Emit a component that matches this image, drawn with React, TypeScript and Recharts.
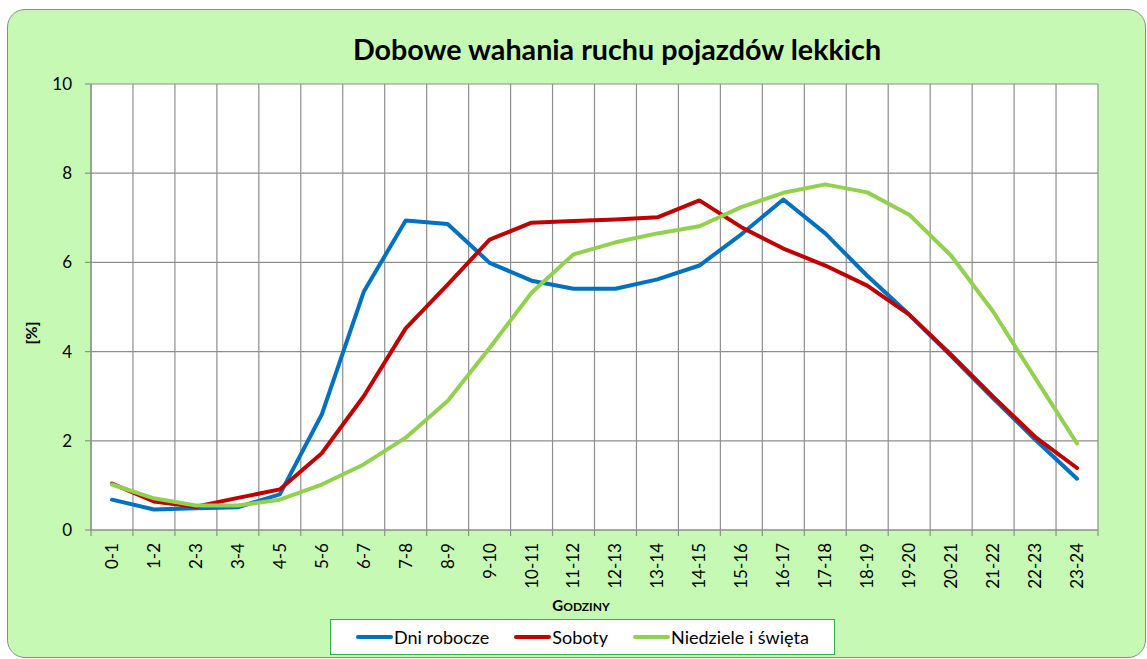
import React from 'react'
import { ComposedChart, Line, XAxis, YAxis, CartesianGrid, Legend } from 'recharts'

const HOURS = [
  '0-1', '1-2', '2-3', '3-4', '4-5', '5-6', '6-7', '7-8', '8-9', '9-10', '10-11', '11-12',
  '12-13', '13-14', '14-15', '15-16', '16-17', '17-18', '18-19', '19-20', '20-21', '21-22', '22-23', '23-24',
]
const WORKDAYS = [0.68, 0.46, 0.49, 0.51, 0.80, 2.59, 5.34, 6.94, 6.86, 5.99, 5.59, 5.41, 5.41, 5.62, 5.93, 6.63, 7.41, 6.65, 5.70, 4.83, 3.90, 2.95, 2.03, 1.15]
const SATURDAYS = [1.04, 0.64, 0.52, 0.72, 0.91, 1.72, 3.00, 4.52, 5.50, 6.51, 6.89, 6.93, 6.96, 7.01, 7.39, 6.79, 6.31, 5.93, 5.48, 4.83, 3.93, 2.99, 2.09, 1.39]
const HOLIDAYS = [1.02, 0.71, 0.55, 0.55, 0.68, 1.02, 1.47, 2.07, 2.89, 4.08, 5.32, 6.18, 6.45, 6.65, 6.81, 7.24, 7.56, 7.75, 7.57, 7.07, 6.15, 4.90, 3.41, 1.94]
const Y_TICKS = [0, 2, 4, 6, 8, 10]

const SERIES = [
  { key: 'work', label: 'Dni robocze', color: '#0070c0' },
  { key: 'sat', label: 'Soboty', color: '#c00000' },
  { key: 'hol', label: 'Niedziele i święta', color: '#92d050' },
]

const data = HOURS.map((h, i) => ({ hour: h, work: WORKDAYS[i], sat: SATURDAYS[i], hol: HOLIDAYS[i] }))

const FONT = "Lato, 'Open Sans', sans-serif"
const GRID = '#8e8e8e'

// x tick: rotated label plus small tick marks on the category boundaries
function HourTick(props: any) {
  const { x, y, payload, width, index } = props
  const half = width / HOURS.length / 2
  return (
    <g>
      <line x1={x - half} x2={x - half} y1={y} y2={y + 6} stroke={GRID} strokeWidth={1.2} />
      {index === HOURS.length - 1 && (
        <line x1={x + half} x2={x + half} y1={y} y2={y + 6} stroke={GRID} strokeWidth={1.2} />
      )}
      <text
        x={x} y={y + 13}
        transform={`rotate(-90 ${x} ${y + 13})`}
        textAnchor="end" dy="0.35em"
        fontFamily={FONT} fontSize={17} fill="#000"
      >
        {payload.value}
      </text>
    </g>
  )
}

function ChartLegend() {
  return (
    <div style={{
      width: 505, height: 36, boxSizing: 'border-box', background: '#fff',
      border: '1.5px solid #2fb34a', display: 'flex', alignItems: 'center',
      justifyContent: 'center', gap: 25, fontFamily: FONT, fontSize: 18, color: '#000',
    }}>
      {SERIES.map(s => (
        <div key={s.key} style={{ display: 'flex', alignItems: 'center' }}>
          <span style={{ width: 37, height: 4, borderRadius: 2, background: s.color, marginRight: 1 }} />
          <span>{s.label}</span>
        </div>
      ))}
    </div>
  )
}

export default function App() {
  return (
    <div style={{ position: 'absolute', left: 0, top: 0, width: 1147, height: 659, overflow: 'hidden' }}>
      <div style={{
        position: 'absolute', left: 7, top: 9, width: 1139, height: 649, boxSizing: 'border-box',
        background: '#c6f9b4', border: '1.5px solid #8c8c8c', borderRadius: 18,
      }} />

      <div style={{ position: 'absolute', left: 0, top: 0 }}>
        <ComposedChart
          width={1147}
          height={659}
          data={data}
          margin={{ top: 84, right: 49, bottom: 0, left: 0 }}
        >
          <CartesianGrid
            fill="#fff"
            stroke={GRID}
            strokeWidth={1.2}
            verticalCoordinatesGenerator={({ offset }: any) =>
              [...HOURS, ''].map((_, i) => offset.left + (i * offset.width) / HOURS.length)}
          />
          <XAxis
            dataKey="hour"
            scale="band"
            interval={0}
            height={129}
            tickSize={0}
            tickMargin={0}
            tickLine={false}
            axisLine={{ stroke: GRID, strokeWidth: 1.2 }}
            tick={<HourTick />}
          />
          <YAxis
            width={91}
            domain={[0, 10]}
            ticks={Y_TICKS}
            tickSize={6}
            tickMargin={13}
            tickLine={{ stroke: GRID, strokeWidth: 1.2 }}
            axisLine={{ stroke: GRID, strokeWidth: 1.2 }}
            tick={{ fontFamily: FONT, fontSize: 17, fill: '#000' }}
          />
          <Legend
            layout="horizontal"
            verticalAlign="middle"
            align="center"
            wrapperStyle={{ left: 330, top: 619, width: 505 }}
            content={<ChartLegend />}
          />
          {SERIES.map(s => (
            <Line
              key={s.key}
              type="linear"
              dataKey={s.key}
              name={s.label}
              stroke={s.color}
              strokeWidth={4}
              strokeLinejoin="round"
              strokeLinecap="round"
              dot={false}
              activeDot={false}
              isAnimationActive={false}
            />
          ))}
        </ComposedChart>
      </div>

      <svg width={1147} height={659} style={{ position: 'absolute', left: 0, top: 0, pointerEvents: 'none' }}>
        <text x={617} y={60} textAnchor="middle" fontFamily={FONT} fontWeight={700} fontSize={28.7} fill="#000">
          Dobowe wahania ruchu pojazdów lekkich
        </text>
        <text x={581} y={611} textAnchor="middle" fontFamily={FONT} fontWeight={700} fill="#000">
          <tspan fontSize={15}>G</tspan><tspan fontSize={12}>ODZINY</tspan>
        </text>
        <text
          x={31} y={333} transform="rotate(-90 31 333)" textAnchor="middle" dy="0.35em"
          fontFamily={FONT} fontWeight={700} fontSize={16} fill="#000"
        >
          [%]
        </text>
      </svg>
    </div>
  )
}
